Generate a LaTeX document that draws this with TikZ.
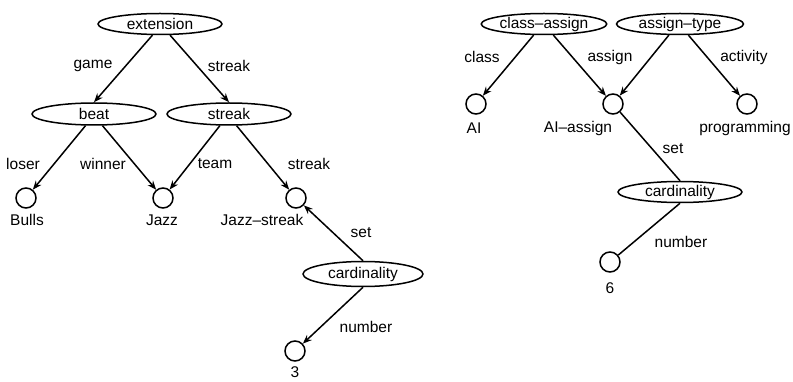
\documentclass[tikz,border=0pt]{standalone}
\usepackage{fontspec}
\setmainfont{Liberation Sans}
\usetikzlibrary{shapes.geometric,arrows.meta}
\begin{document}
\begin{tikzpicture}[x=1pt,y=-1pt,
  every node/.style={font=\fontsize{15.5}{18}\selectfont},
  oval/.style={draw,ellipse,line width=1.5pt,minimum width=124pt,minimum height=21pt,inner sep=0pt},
  val/.style={draw,circle,line width=1.5pt,minimum size=20pt,inner sep=0pt},
  lab/.style={inner sep=0pt},
  link/.style={line width=1.5pt},
  arr/.style={link,-{Stealth[length=9pt,width=7pt,inset=3pt]}}]
\useasboundingbox (0,0) rectangle (793,382);
% left graph
\node[oval] (ext) at (160,24) {extension};
\node[oval,minimum height=22pt] (beat) at (94,114) {beat};
\node[oval,minimum height=22pt] (stk) at (229,114) {streak};
\node[val] (bulls) at (26,198) {};
\node[val] (jazz) at (163,198) {};
\node[val] (js) at (296,198) {};
\node[oval,minimum width=120pt,minimum height=25pt] (card) at (363,274) {cardinality};
\node[val] (three) at (295,351) {};
\node[lab] (lbulls) at (27,220) {Bulls};
\node[lab] (ljazz) at (162,220) {Jazz};
\node[lab] (ljs) at (262,220) {Jazz--streak};
\node[lab] (lthree) at (295,372) {3};
\draw[arr] (ext.236) -- (beat.north);
\draw[arr] (ext.312) -- (stk.north);
\draw[arr] (beat.234) -- (bulls);
\draw[arr] (beat.306) -- (jazz);
\draw[arr] (stk.232) -- (jazz);
\draw[arr] (stk.303) -- (js);
\draw[arr] (card.north) -- (js);
\draw[arr] (card.south) -- (three);
\node[lab] (lgame) at (93,66) {game};
\node[lab] (lstreak1) at (229,66) {streak};
\node[lab] (lloser) at (23,164) {loser};
\node[lab] (lwinner) at (103,164) {winner};
\node[lab] (lteam) at (215,164) {team};
\node[lab] (lstreak2) at (309,164) {streak};
\node[lab] (lset1) at (361,233) {set};
\node[lab] (lnum1) at (366,327) {number};
% right graph
\node[oval] (ca) at (544,24) {class--assign};
\node[oval,minimum width=127pt] (at) at (680,24) {assign--type};
\node[val] (ai) at (476,104) {};
\node[val] (aia) at (613,104) {};
\node[val] (prog) at (747,104) {};
\node[oval] (card2) at (680,192) {cardinality};
\node[val] (six) at (610,262) {};
\node[lab] (lai) at (474,128) {AI};
\node[lab] (laia) at (578,128) {AI--assign};
\node[lab] (lprog) at (745,128) {programming};
\node[lab] (lsix) at (610,288) {6};
\draw[arr] (ca.227) -- (ai);
\draw[arr] (ca.310) -- (aia);
\draw[arr] (at.225) -- (aia);
\draw[arr] (at.307) -- (prog);
\draw[link] (aia) -- (card2.north);
\draw[link] (card2.south) -- (six);
\node[lab] (lclass) at (482,57) {class};
\node[lab] (lassign) at (610,57) {assign};
\node[lab] (lact) at (744,57) {activity};
\node[lab] (lset2) at (673,149) {set};
\node[lab] (lnum2) at (681,242) {number};
\end{tikzpicture}
\end{document}
